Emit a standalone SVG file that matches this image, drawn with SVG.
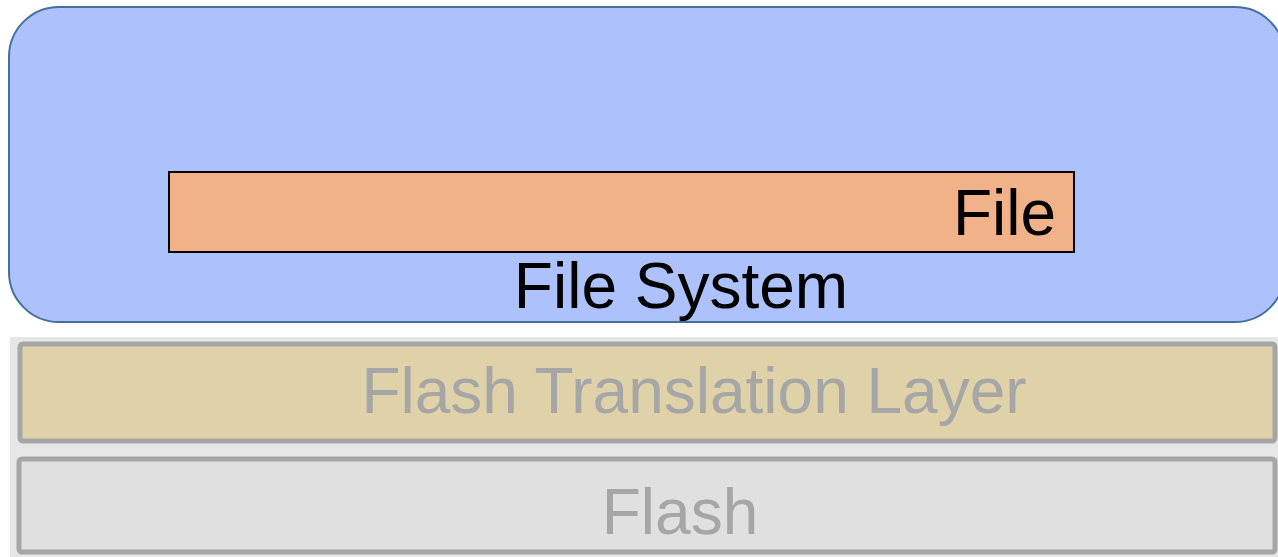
<svg xmlns="http://www.w3.org/2000/svg" width="1278" height="557" viewBox="0 0 1278 557">
  <style>
    .label { font-family: "Liberation Sans", Arial, sans-serif; font-size: 64px; }
    .dark { fill: #000000; }
    .dim { fill: #a6a6a6; }
    .layer { stroke: #a6a6a6; stroke-width: 5; }
  </style>
  <rect x="0" y="0" width="1278" height="557" fill="#ffffff"/>

  <!-- file system layer with a file inside -->
  <g id="file-system">
    <rect x="9" y="7" width="1276" height="315" rx="50" ry="50" fill="#adc2fd" stroke="#44709e" stroke-width="2"/>
    <text class="label dark" x="681" y="308" text-anchor="middle">File System</text>
  </g>
  <g id="file">
    <rect x="169" y="172" width="905" height="80" fill="#f2b289" stroke="#000000" stroke-width="2"/>
    <text class="label dark" x="1056" y="235" text-anchor="end">File</text>
  </g>

  <!-- lower storage stack -->
  <rect id="stack-panel" x="10" y="337" width="1268" height="220" fill="#e6e6e6"/>
  <g id="ftl">
    <rect class="layer" x="20" y="344" width="1255" height="97" rx="3" fill="#e0d2a8"/>
    <text class="label dim" x="694" y="413" text-anchor="middle">Flash Translation Layer</text>
  </g>
  <g id="flash">
    <rect class="layer" x="19" y="459" width="1256" height="93" rx="3" fill="#e0e0e0"/>
    <text class="label dim" x="680" y="534" text-anchor="middle">Flash</text>
  </g>

  <g id="connectors"></g>
</svg>
